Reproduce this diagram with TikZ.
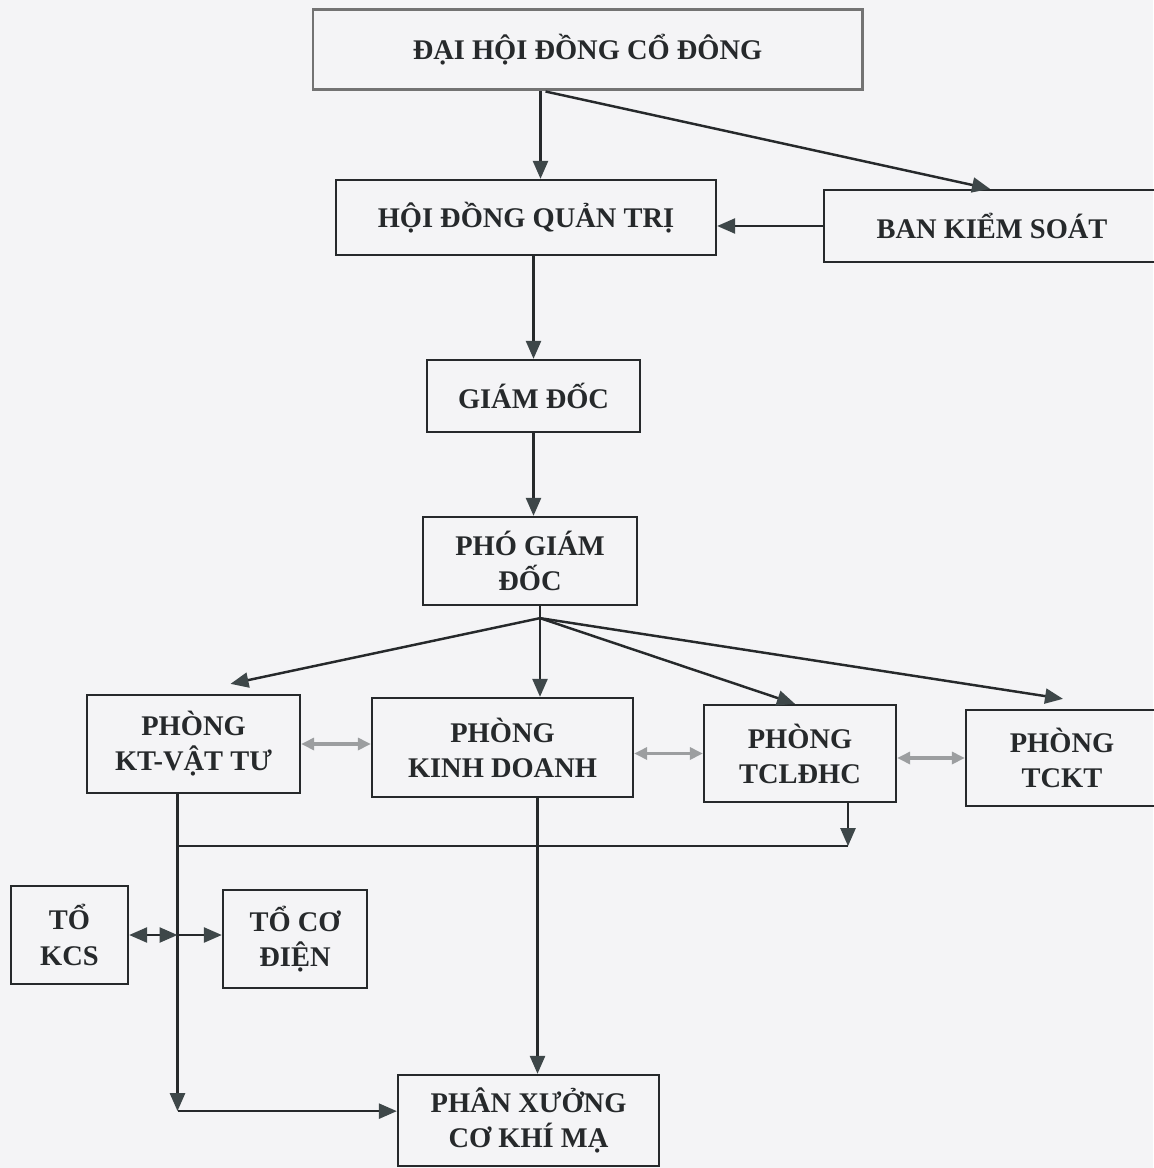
\documentclass[tikz,border=0pt]{standalone}
\usepackage{fontspec}
\setmainfont{Liberation Serif}
\definecolor{ink}{HTML}{26292B}
\definecolor{tipc}{HTML}{3E4749}
\definecolor{paper}{HTML}{F4F4F6}
\definecolor{mist}{HTML}{9C9EA0}
\usetikzlibrary{calc, arrows.meta}

\begin{document}
\begin{tikzpicture}[
  x=0.02cm, y=-0.02cm,
  head/.tip={Triangle[length=0.36cm, width=0.3cm, color=tipc]},
  ghead/.tip={Triangle[length=0.26cm, width=0.24cm, color=mist]},
  box/.style 2 args={draw=ink, line width=1.3pt, minimum width=#1*0.02cm, minimum height=#2*0.02cm,
    inner sep=0pt, align=center, text=ink, font=\fontsize{16.2}{20}\selectfont\bfseries},
  link/.style={draw=ink, line width=1.4pt},
  arr/.style={link, -head},
  biarr/.style={link, head-head},
  peer/.style={draw=mist, line width=1.8pt, ghead-ghead},
]
\useasboundingbox (0,0) rectangle (1153,1168);
\fill[paper] (0,0) rectangle (1153,1168);

% Boxes
\node[box={549}{80}, draw=black!55, line width=1.7pt] (dhd) at (587.5,50) {ĐẠI HỘI ĐỒNG CỔ ĐÔNG};
\node[box={380}{75}] (hdqt) at (526,217.5) {HỘI ĐỒNG QUẢN TRỊ};
\node[box={336}{72}] (bks) at (992,226) {BAN KIỂM SOÁT};
\node[box={213}{72}] (gd) at (533.5,396) {GIÁM ĐỐC};
\node[box={214}{88}] (pgd) at (530,561) {PHÓ GIÁM\\ĐỐC};

\node[box={213}{98}] (ktvt) at (193.5,744) {PHÒNG\\KT-VẬT TƯ};
\node[box={261}{99}] (kd) at (502.5,747.5) {PHÒNG\\KINH DOANH};
\node[box={192}{97}] (tcl) at (800,753.5) {PHÒNG\\TCLĐHC};
\node[box={192}{96}] (tckt) at (1062,758) {PHÒNG\\TCKT};

\node[box={117}{98}] (kcs) at (69.5,935) {TỔ\\KCS};
\node[box={144}{98}] (cod) at (295,939) {TỔ CƠ\\ĐIỆN};
\node[box={261}{91}] (px) at (528.5,1120.5) {PHÂN XƯỞNG\\CƠ KHÍ MẠ};

% Top levels
\coordinate (dtop) at ($(dhd.south)+(-47,0)$);
\draw[arr] (dtop) -- (dtop |- hdqt.north);
\draw[arr] ($(dtop)+(5,0)$) -- ($(bks.north)+(-2,0)$);
\draw[arr] (bks.west) -- (bks.west -| hdqt.east);
\draw[arr] (gd.north |- hdqt.south) -- (gd.north);
\draw[arr] (gd.south) -- (gd.south |- pgd.north);

% Departments
\coordinate (fan) at ($(pgd.south)+(10,12)$);
\draw[link] (fan |- pgd.south) -- (fan);
\draw[arr] (fan) -- ($(ktvt.north)+(37,-10)$);
\draw[arr] (fan) -- (fan |- kd.north);
\draw[arr] (fan) -- ($(tcl.north)+(-5,0)$);
\draw[arr] (fan) -- ($(tckt.north)+(1,-10)$);

\draw[peer] (ktvt.east) -- (ktvt.east -| kd.west);
\draw[peer] (tcl.west -| kd.east) -- (tcl.west);
\draw[peer] (tckt.west -| tcl.east) -- (tckt.west);

% Workshop
\coordinate (vt) at ($(ktvt.south)+(-16,0)$);
\coordinate (hl) at ($(vt)+(0,52)$);
\coordinate (hr) at ($(tcl.south)+(48,44)$);
\coordinate (bl) at ($(vt)+(0,317)$);
\coordinate (kj) at (vt |- kcs.east);
\coordinate (kx) at ($(kd.south)+(35,0)$);

\draw[link] (hl) -- (hl -| hr);
\draw[arr] (tcl.south -| hr) -- (hl -| hr);
\draw[arr] (kx) -- (kx |- px.north);
\draw[arr] (vt) -- (bl);
\draw[arr] (bl) -- (bl -| px.west);
\draw[biarr] (kcs.east) -- (kj);
\draw[arr] (kj) -- (kj -| cod.west);
\end{tikzpicture}
\end{document}
